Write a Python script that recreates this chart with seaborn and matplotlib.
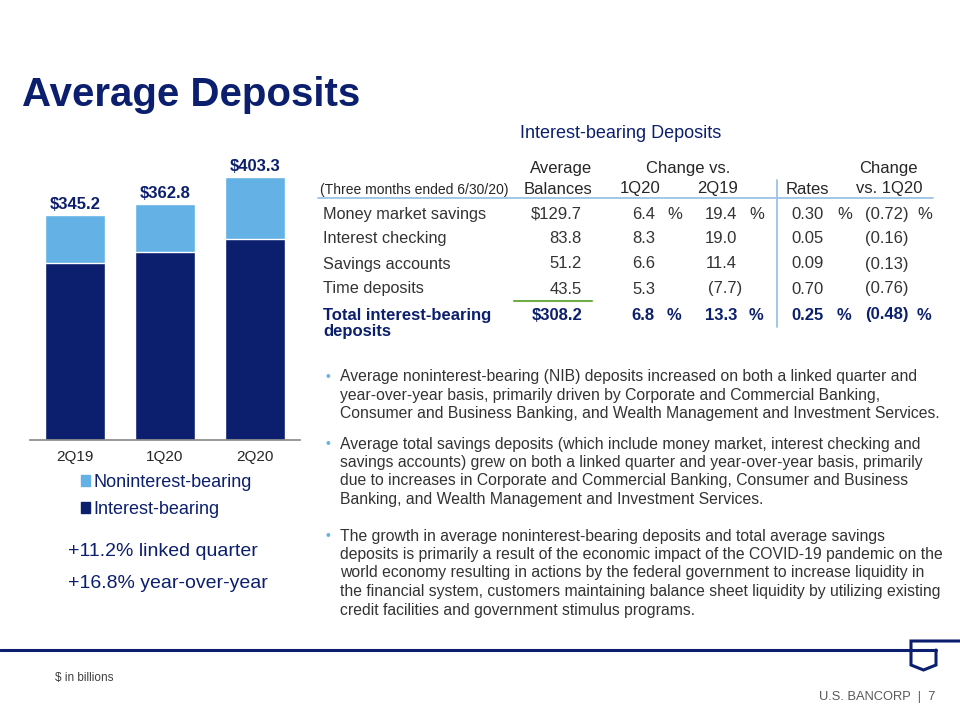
import pandas as pd
import seaborn as sns
import matplotlib.pyplot as plt
from matplotlib.patches import Patch
from matplotlib.lines import Line2D

# data ($ in billions)
quarters = ['2Q19', '1Q20', '2Q20']
interest_bearing = [272.0, 288.6, 308.2]
noninterest_bearing = [73.2, 74.2, 95.1]
total_labels = ['$345.2', '$362.8', '$403.3']

row_names = ['Money market savings', 'Interest checking', 'Savings accounts',
             'Time deposits', 'Total interest-bearing\ndeposits']
avg_balances = ['$129.7', '83.8', '51.2', '43.5', '$308.2']
chg_1q20 = ['6.4', '8.3', '6.6', '5.3', '6.8']
chg_2q19 = ['19.4', '19.0', '11.4', '(7.7)', '13.3']
rates = ['0.30', '0.05', '0.09', '0.70', '0.25']
rate_chg = ['(0.72)', '(0.16)', '(0.13)', '(0.76)', '(0.48)']
pct_rows = [0, 4]

bullets = [
    ['Average noninterest-bearing (NIB) deposits increased on both a linked quarter and',
     'year-over-year basis, primarily driven by Corporate and Commercial Banking,',
     'Consumer and Business Banking, and Wealth Management and Investment Services.'],
    ['Average total savings deposits (which include money market, interest checking and',
     'savings accounts) grew on both a linked quarter and year-over-year basis, primarily',
     'due to increases in Corporate and Commercial Banking, Consumer and Business',
     'Banking, and Wealth Management and Investment Services.'],
    ['The growth in average noninterest-bearing deposits and total average savings',
     'deposits is primarily a result of the economic impact of the COVID-19 pandemic on the',
     'world economy resulting in actions by the federal government to increase liquidity in',
     'the financial system, customers maintaining balance sheet liquidity by utilizing existing',
     'credit facilities and government stimulus programs.'],
]
bullet_top = [377, 444, 536]

NAVY = '#0C1F6E'
LIGHT = '#63B1E5'
GRAY = '#333333'
LINE = '#9DC3E6'

sns.set_theme(style='white')
plt.rcParams['font.family'] = ['Liberation Sans', 'DejaVu Sans']

W, H = 960, 720
fig = plt.figure(figsize=(9.6, 7.2), dpi=100)


def fx(x):
    return x / W


def fy(y):
    return 1 - y / H


def txt(x, y, s, **kw):
    kw.setdefault('va', 'center')
    kw.setdefault('color', GRAY)
    fig.text(fx(x), fy(y), s, **kw)


# ---- stacked bars
df = pd.DataFrame({'quarter': quarters,
                   'ib': interest_bearing,
                   'nib': noninterest_bearing})
df['total'] = df['ib'] + df['nib']

ax = fig.add_axes([fx(30), fy(440), fx(270), 280 / H])
sns.barplot(data=df, x='quarter', y='total', color=LIGHT, width=0.66,
            saturation=1, ax=ax)
sns.barplot(data=df, x='quarter', y='ib', color=NAVY, width=0.66,
            saturation=1, ax=ax)
ax.set_ylim(0, 430)
ax.set_xlim(-0.5, 2.5)
ax.set_xlabel('')
ax.set_ylabel('')
ax.set_yticks([])
sns.despine(ax=ax, left=True)
ax.spines['bottom'].set_color('#8C8C8C')
ax.tick_params(axis='x', length=0, pad=7, labelsize=11, labelcolor='#262626')
for i, (v, lab) in enumerate(zip(df['total'], total_labels)):
    ax.text(i, v + 5, lab, ha='center', va='bottom', fontsize=12,
            fontweight='bold', color=NAVY)

handles = [Patch(color=LIGHT, label='Noninterest-bearing'),
           Patch(color=NAVY, label='Interest-bearing')]
leg = fig.legend(handles=handles, loc='upper left',
                 bbox_to_anchor=(fx(72), fy(465)), frameon=False, fontsize=13,
                 handlelength=0.5, handleheight=0.5, handletextpad=0.2,
                 labelspacing=0.55, borderpad=0)
for t in leg.get_texts():
    t.set_color(NAVY)

txt(68, 552, '+11.2% linked quarter', fontsize=14, color=NAVY)
txt(68, 584, '+16.8% year-over-year', fontsize=14, color=NAVY)

# ---- title
txt(22, 95, 'Average Deposits', fontsize=29, fontweight='bold', color=NAVY)

# ---- table
txt(621, 133, 'Interest-bearing Deposits', fontsize=13, color=NAVY, ha='center')
hdr = dict(fontsize=12, color='#262626', ha='center')
txt(561, 169, 'Average', **hdr)
txt(558, 189, 'Balances', **hdr)
txt(688, 169, 'Change vs.', **hdr)
txt(640, 189, '1Q20', **hdr)
txt(718, 189, '2Q19', **hdr)
txt(807, 189, 'Rates', **hdr)
txt(888, 169, 'Change', **hdr)
txt(889, 189, 'vs. 1Q20', **hdr)
txt(320, 190, '(Three months ended 6/30/20)', fontsize=10, color='#262626')

fig.add_artist(Line2D([fx(318), fx(933)], [fy(198), fy(198)], color=LINE, lw=1.3))
fig.add_artist(Line2D([fx(777), fx(777)], [fy(180), fy(327)], color=LINE, lw=1.3))
fig.add_artist(Line2D([fx(514), fx(592)], [fy(301), fy(301)], color='#70AD47', lw=1.5))

row_y = [214, 238.5, 264, 289, 315]
for i, y in enumerate(row_y):
    total = i == len(row_y) - 1
    kw = dict(fontsize=12, color=NAVY if total else GRAY,
              fontweight='bold' if total else 'normal')
    if total:
        txt(323, y + 8.5, row_names[i], linespacing=1.05, **kw)
    else:
        txt(323, y, row_names[i], fontsize=11.7, color=GRAY)
    txt(582, y, avg_balances[i], ha='right', **kw)
    txt(655, y, chg_1q20[i], ha='right', **kw)
    s = chg_2q19[i]
    txt(742 if s.endswith(')') else 737, y, s, ha='right', **kw)
    txt(824, y, rates[i], ha='right', **kw)
    txt(909, y, rate_chg[i], ha='right', **kw)
    if i in pct_rows:
        for px in (667, 749, 837, 917):
            txt(px, y, '%', **kw)

# ---- bullets
for y, para in zip(bullet_top, bullets):
    txt(326, y, '\u2022', fontsize=10, color=LIGHT)
    for line in para:
        txt(340, y, line, fontsize=11.3, color=GRAY)
        y += 18.5

# ---- footer
txt(55, 678, '$ in billions', fontsize=8.5, color='#404040')
txt(935, 697, 'U.S. BANCORP  |  7', fontsize=9.3, color='#595959', ha='right')
logo = dict(color=NAVY, lw=2.2, solid_joinstyle='miter')
fig.add_artist(Line2D([0, fx(936)], [fy(650), fy(650)], **logo))
fig.add_artist(Line2D([1, fx(911), fx(911), fx(923.5), fx(936), fx(936)],
                      [fy(641), fy(641), fy(665), fy(670), fy(665), fy(650)], **logo))

fig.savefig('out.png', dpi=100)
